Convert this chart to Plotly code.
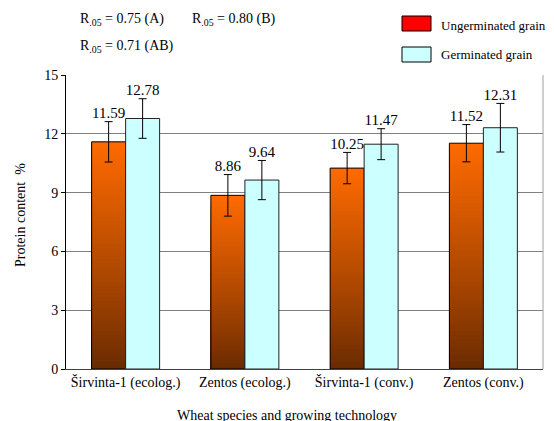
import plotly.graph_objects as go

categories = ["Širvinta-1 (ecolog.)", "Zentos (ecolog.)", "Širvinta-1 (conv.)", "Zentos (conv.)"]
ungerminated = [11.59, 8.86, 10.25, 11.52]
ungerminated_err = [1.03, 1.06, 0.80, 0.95]
germinated = [12.78, 9.64, 11.47, 12.31]
germinated_err = [1.01, 1.00, 0.79, 1.24]
y_ticks = [0, 3, 6, 9, 12, 15]

FONT = "Liberation Serif"
xi = list(range(len(categories)))
W = 0.285
xu = [i - W / 2 for i in xi]
xg = [i + W / 2 for i in xi]

fig = go.Figure()

# gradient ungerminated bars (layered, tallest first)
N = 60
top = (255, 106, 0)
bot = (104, 42, 0)
for k in range(N):
    f = (N - k) / N
    t = (f - 0.5 / N)
    c = tuple(int(round(bot[j] + (top[j] - bot[j]) * min(1, t ** 0.9))) for j in range(3))
    fig.add_trace(go.Bar(
        x=xu, y=[v * f for v in ungerminated], width=W,
        marker=dict(color="rgb(%d,%d,%d)" % c, line=dict(width=0)),
        showlegend=False, hoverinfo="skip"))

# outline + error bars for ungerminated
fig.add_trace(go.Bar(
    x=xu, y=ungerminated, width=W, name="Ungerminated grain",
    marker=dict(color="rgba(0,0,0,0)", line=dict(color="#000000", width=1)),
    error_y=dict(type="data", array=ungerminated_err, color="#000000", thickness=1, width=4),
    showlegend=False))

fig.add_trace(go.Bar(
    x=xg, y=germinated, width=W, name="Germinated grain",
    marker=dict(color="#CCFFFF", line=dict(color="#222222", width=1)),
    error_y=dict(type="data", array=germinated_err, color="#000000", thickness=1, width=4),
    showlegend=False))

# value labels above error bars
fig.add_trace(go.Scatter(
    x=xu, y=[v + e for v, e in zip(ungerminated, ungerminated_err)],
    mode="text", text=["%.2f" % v for v in ungerminated], textposition="top center",
    textfont=dict(family=FONT, size=15, color="#000000"), showlegend=False, hoverinfo="skip"))
fig.add_trace(go.Scatter(
    x=xg, y=[v + e for v, e in zip(germinated, germinated_err)],
    mode="text", text=["%.2f" % v for v in germinated], textposition="top center",
    textfont=dict(family=FONT, size=15, color="#000000"), showlegend=False, hoverinfo="skip"))

# page has an 8px body margin; plot area in page pixels: x 66..543, y 75..369
fig.update_layout(
    width=546, height=413,
    margin=dict(l=58, r=11, t=67, b=52),
    barmode="overlay",
    plot_bgcolor="white", paper_bgcolor="white",
    font=dict(family=FONT, size=14, color="#000000"),
    xaxis=dict(range=[-0.5, 3.5], tickvals=xi, ticktext=categories,
               showline=True, linecolor="#404040", linewidth=1, ticks="",
               showgrid=False, zeroline=False, tickfont=dict(family=FONT, size=14)),
    yaxis=dict(range=[0, 15], tickvals=y_ticks, showline=True, linecolor="#000000",
               linewidth=1, ticks="outside", ticklen=4, tickcolor="#000000",
               showgrid=True, gridcolor="#808080", gridwidth=1, zeroline=False,
               tickfont=dict(family=FONT, size=14)),
    showlegend=False,
)

# right frame line
fig.add_shape(type="line", xref="paper", yref="paper", x0=1, x1=1, y0=0, y1=1,
              line=dict(color="#A0A0A0", width=1))


def px_x(p):
    return (p - 66) / 477


def px_y(p):
    return (369 - p) / 294


tf = dict(family=FONT, size=14, color="#000000")
lf = dict(family=FONT, size=13, color="#000000")

# axis titles
fig.add_annotation(text="Protein content  %", xref="paper", yref="paper",
                   x=px_x(20), y=px_y(215), textangle=-90, showarrow=False,
                   font=tf, xanchor="center", yanchor="middle")
fig.add_annotation(text="Wheat species and growing technology", xref="paper", yref="paper",
                   x=px_x(287), y=px_y(415), showarrow=False, font=tf,
                   xanchor="center", yanchor="middle")

# R05 annotations
fig.add_annotation(text="R<sub>.05</sub> = 0.75 (A)", xref="paper", yref="paper",
                   x=px_x(78), y=px_y(20), showarrow=False,
                   xanchor="left", yanchor="middle", font=tf)
fig.add_annotation(text="R<sub>.05</sub> = 0.80 (B)", xref="paper", yref="paper",
                   x=px_x(190), y=px_y(20), showarrow=False,
                   xanchor="left", yanchor="middle", font=tf)
fig.add_annotation(text="R<sub>.05</sub> = 0.71 (AB)", xref="paper", yref="paper",
                   x=px_x(78), y=px_y(46), showarrow=False,
                   xanchor="left", yanchor="middle", font=tf)

# legend (drawn)
fig.add_shape(type="rect", xref="paper", yref="paper",
              x0=px_x(402), x1=px_x(431), y0=px_y(31), y1=px_y(16),
              fillcolor="#FF0000", line=dict(color="#000000", width=1))
fig.add_shape(type="rect", xref="paper", yref="paper",
              x0=px_x(402), x1=px_x(431), y0=px_y(62), y1=px_y(47),
              fillcolor="#CCFFFF", line=dict(color="#000000", width=1))
fig.add_annotation(text="Ungerminated grain", xref="paper", yref="paper",
                   x=px_x(439), y=px_y(25), showarrow=False, xanchor="left",
                   yanchor="middle", font=lf)
fig.add_annotation(text="Germinated grain", xref="paper", yref="paper",
                   x=px_x(439), y=px_y(54), showarrow=False, xanchor="left",
                   yanchor="middle", font=lf)

fig.write_html("out.html")
